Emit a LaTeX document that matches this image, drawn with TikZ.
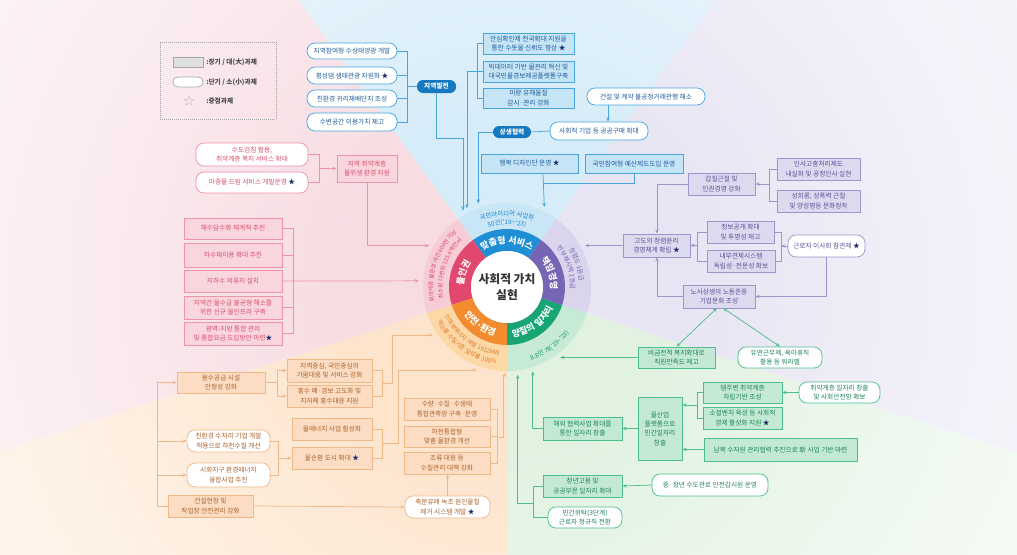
\documentclass[tikz,border=0pt]{standalone}
\usepackage{fontspec}
\newfontfamily\kr{Noto Sans CJK KR}
\newfontfamily\krls[LetterSpace=12]{Noto Sans CJK KR}
\usetikzlibrary{arrows.meta,decorations.text,calc,shadows}

% palette: lines, fills, texts per theme
\definecolor{bln}{HTML}{49A6DD}\definecolor{bfill}{HTML}{C5E4F6}\definecolor{btxt}{HTML}{1F5C99}
\definecolor{pillc}{HTML}{1679BF}
\definecolor{pln}{HTML}{EE93A8}\definecolor{pfill}{HTML}{F9D5DD}\definecolor{ptxt}{HTML}{D8506F}
\definecolor{uln}{HTML}{9E96CA}\definecolor{ufill}{HTML}{DDDAEF}\definecolor{utxt}{HTML}{5A5098}
\definecolor{gln}{HTML}{4DBF8E}\definecolor{gfill}{HTML}{C3E9D4}\definecolor{gtxt}{HTML}{1F8459}
\definecolor{oln}{HTML}{F0B886}\definecolor{ofill}{HTML}{FCDDC3}\definecolor{otxt}{HTML}{A9612B}
\definecolor{starc}{HTML}{1B2A6B}
% ring colours
\definecolor{rB}{HTML}{1E8FD5}\definecolor{rBl}{HTML}{C9E6F7}\definecolor{tB}{HTML}{1A84CB}
\definecolor{rP}{HTML}{E2486D}\definecolor{rPl}{HTML}{F6CCD6}\definecolor{tP}{HTML}{D9466A}
\definecolor{rO}{HTML}{F28C2E}\definecolor{rOl}{HTML}{FCD8A6}\definecolor{tO}{HTML}{DC7622}
\definecolor{rG}{HTML}{17A673}\definecolor{rGl}{HTML}{C6EAD4}\definecolor{tG}{HTML}{16995F}
\definecolor{rU}{HTML}{7565B4}\definecolor{rUl}{HTML}{DAD4ED}\definecolor{tU}{HTML}{7666B5}
% background wedge tints (near hub, and half-way out)
\definecolor{bgB}{HTML}{D6ECF9}\definecolor{bgBm}{HTML}{EDF6FC}
\definecolor{bgP}{HTML}{F7DCE2}\definecolor{bgPm}{HTML}{FBEEF1}
\definecolor{bgO}{HTML}{FDE4CC}\definecolor{bgOm}{HTML}{FEF2E6}
\definecolor{bgG}{HTML}{E1F2E1}\definecolor{bgGm}{HTML}{F1F9F1}
\definecolor{bgU}{HTML}{E7E4F3}\definecolor{bgUm}{HTML}{F3F1F9}

\pgfdeclareradialshading{shB}{\pgfpointorigin}{color(0bp)=(bgB); color(4bp)=(bgB); color(12bp)=(bgBm); color(26bp)=(white); color(50bp)=(white)}
\pgfdeclareradialshading{shP}{\pgfpointorigin}{color(0bp)=(bgP); color(4bp)=(bgP); color(12bp)=(bgPm); color(26bp)=(white); color(50bp)=(white)}
\pgfdeclareradialshading{shO}{\pgfpointorigin}{color(0bp)=(bgO); color(4bp)=(bgO); color(12bp)=(bgOm); color(26bp)=(white); color(50bp)=(white)}
\pgfdeclareradialshading{shG}{\pgfpointorigin}{color(0bp)=(bgG); color(4bp)=(bgG); color(12bp)=(bgGm); color(26bp)=(white); color(50bp)=(white)}
\pgfdeclareradialshading{shU}{\pgfpointorigin}{color(0bp)=(bgU); color(4bp)=(bgU); color(12bp)=(bgUm); color(26bp)=(white); color(50bp)=(white)}

% box by corners: name, x1, y1, x2, y2, style, text
\newcommand\bx[7]{\node[#6, minimum width={(#4-#2)*0.75pt}, minimum height={(#5-#3)*0.75pt}] (#1) at ({(#2+#4)/2},{-(#3+#5)/2}) {#7};}
% tinted wedge: start angle, mid angle, end angle, shading
\newcommand\tintwedge[4]{\begin{scope}
  \clip (507,-287) -- ([shift={(507,-287)}]#1:1500) -- ([shift={(507,-287)}]#2:1500) -- ([shift={(507,-287)}]#3:1500) -- cycle;
  \shade[shading=#4] (507,-287) circle (1000);\end{scope}}
% annular sector: start, end, inner r, outer r, colour
\newcommand\annsec[5]{\fill[#5] ([shift={(507,-287)}]#1:#3) arc[start angle=#1,end angle=#2,radius=#3]
  -- ([shift={(507,-287)}]#2:#4) arc[start angle=#2,end angle=#1,radius=#4] -- cycle;}
% text along an arc round the hub: start, end, radius, format, colour, text
\newcommand\arctext[6]{\path[decorate, decoration={text along path, text align=center, text color=#5, text={|#4|#6}}]
  ([shift={(507,-287)}]#1:#3) arc[start angle=#1, end angle=#2, radius=#3];}
\newcommand\st{\textcolor{starc}{★}}

\begin{document}
\begin{tikzpicture}[x=0.75pt,y=0.75pt, font=\kr\fontsize{5}{7}\selectfont,
  box/.style={inner sep=0.5pt, align=center, line width=0.55pt},
  brect/.style={box, draw=bln, fill=bfill, text=btxt},
  bround/.style={box, draw=bln, fill=white, text=btxt, rounded corners=6pt},
  prect/.style={box, draw=pln, fill=pfill, text=ptxt},
  pround/.style={box, draw=pln, fill=white, text=ptxt, rounded corners=6pt},
  urect/.style={box, draw=uln, fill=ufill, text=utxt},
  uround/.style={box, draw=uln, fill=white, text=utxt, rounded corners=6pt},
  grect/.style={box, draw=gln, fill=gfill, text=gtxt},
  ground/.style={box, draw=gln, fill=white, text=gtxt, rounded corners=6pt},
  orect/.style={box, draw=oln, fill=ofill, text=otxt},
  oround/.style={box, draw=oln, fill=white, text=otxt, rounded corners=6pt},
  pill/.style={inner sep=0pt, fill=pillc, text=white, rounded corners=4.5pt, font=\kr\bfseries\fontsize{5}{6}\selectfont},
  con/.style={line width=0.55pt},
  tip/.style={con, -{Stealth[length=3.2pt,width=2.6pt]}},
  bline/.style={con, draw=bln}, barrow/.style={tip, draw=bln},
  pline/.style={con, draw=pln}, parrow/.style={tip, draw=pln},
  uline/.style={con, draw=uln}, uarrow/.style={tip, draw=uln},
  gline/.style={con, draw=gln}, garrow/.style={tip, draw=gln},
  gboth/.style={con, draw=gln, {Stealth[length=3.2pt,width=2.6pt]}-{Stealth[length=3.2pt,width=2.6pt]}},
  oline/.style={con, draw=oln}, oarrow/.style={tip, draw=oln},
  lgtext/.style={anchor=west, inner sep=0pt, text=black!70, font=\kr\bfseries\fontsize{5}{6}\selectfont}]

\useasboundingbox (0,0) rectangle (1017,-554);
\fill[white] (0,0) rectangle (1017,-554);

% ---- tinted sectors behind everything ----
\begin{scope}
\clip (0,0) rectangle (1017,-554);
\tintwedge{54}{90}{126}{shB}
\tintwedge{126}{162}{198}{shP}
\tintwedge{198}{234}{270}{shO}
\tintwedge{270}{306}{342}{shG}
\tintwedge{-18}{18}{54}{shU}
\end{scope}

% ---- hub ----
\annsec{54}{126}{58}{84}{rBl}
\annsec{126}{198}{58}{84}{rPl}
\annsec{198}{270}{58}{84}{rOl}
\annsec{270}{342}{58}{84}{rGl}
\annsec{-18}{54}{58}{84}{rUl}
\annsec{54}{126}{36}{58}{rB}
\annsec{126}{198}{36}{58}{rP}
\annsec{198}{270}{36}{58}{rO}
\annsec{270}{342}{36}{58}{rG}
\annsec{-18}{54}{36}{58}{rU}
\node[circle, minimum size=176*0.75pt, inner sep=0pt] (ring) at (507,-287) {};
\node[circle, fill=white, minimum size=72*0.75pt, inner sep=0pt, text=black!80, align=center,
  font=\kr\bfseries\fontsize{8.8}{12}\selectfont,
  drop shadow={opacity=0.25, shadow xshift=0.4pt, shadow yshift=-0.7pt}] (core) at (507,-287) {사회적 가치\\실현};

\arctext{140}{40}{43.5}{\kr\bfseries\fontsize{6.7}{8}\selectfont}{white}{맞춤형 서비스}
\arctext{212}{112}{43.5}{\kr\bfseries\fontsize{6.7}{8}\selectfont}{white}{물인권}
\arctext{68}{-32}{43.5}{\kr\bfseries\fontsize{6.7}{8}\selectfont}{white}{책임경영}
\arctext{184}{284}{50.5}{\krls\bfseries\fontsize{6.7}{8}\selectfont}{white}{안전·환경}
\arctext{256}{356}{50.5}{\krls\bfseries\fontsize{6.7}{8}\selectfont}{white}{양질의 일자리}

\arctext{140}{40}{71}{\kr\fontsize{4.7}{6}\selectfont}{tB}{국민아이디어 사업화}
\arctext{140}{40}{62.5}{\kr\fontsize{4.7}{6}\selectfont}{tB}{50건('19{\textasciitilde}'23)}
\arctext{216}{108}{74}{\kr\fontsize{4.2}{6}\selectfont}{tP}{취약계층 물환경 개선 600천 이상}
\arctext{216}{108}{64.5}{\kr\fontsize{4.2}{6}\selectfont}{tP}{취수원 다변화 125.6백만㎥}
\arctext{70}{-34}{72.5}{\kr\fontsize{4.7}{6}\selectfont}{tU}{청렴도 1등급}
\arctext{70}{-34}{63.5}{\kr\fontsize{4.7}{6}\selectfont}{tU}{반부패시책 1등급}
\arctext{180}{288}{68.5}{\krls\fontsize{4.4}{6}\selectfont}{tO}{신재생에너지 개발 1912MW}
\arctext{180}{288}{77.5}{\krls\fontsize{4.4}{6}\selectfont}{tO}{먹는물 수질기준 달성률 100{\%}}
\arctext{250}{362}{77}{\krls\fontsize{4.7}{6}\selectfont}{tG}{8.8만 개('19{\textasciitilde}'23)}

% ---- legend ----
\node[draw=black!35, densely dotted, line width=0.5pt, minimum width=116*0.75pt, minimum height=77*0.75pt] (legend) at (218,-80.5) {};
\bx{lgR}{173}{57}{203}{67}{draw=black!35, fill=black!12, line width=0.5pt}{}
\bx{lgO}{173}{77}{203}{87}{draw=black!35, fill=white, rounded corners=3.5pt, line width=0.5pt}{}
\node[text=black!30, inner sep=0pt, font=\kr\fontsize{9}{9}\selectfont] (lgS) at (189,-101) {☆};
\node[lgtext] (lgt1) at (206,-62) {:장기 / 대(大)과제};
\node[lgtext] (lgt2) at (206,-82) {:단기 / 소(小)과제};
\node[lgtext] (lgt3) at (206,-101) {:중점과제};

% ---- blue: 맞춤형 서비스 ----
\bx{T1}{307}{43}{397}{59}{bround}{지역참여형 수상태양광 개발}
\bx{T2}{307}{67}{397}{84}{bround}{횡성댐 생태관광 자원화 \st}
\bx{T3}{307}{90}{397}{107}{bround}{친환경 귀리재배단지 조성}
\bx{T4}{307}{113}{397}{131}{bround}{수변공간 이용가치 제고}
\bx{JB}{417}{80}{456}{93}{pill}{지역발전}
\bx{B1}{483}{33}{574}{54}{brect}{안심확인제 전국확대 지원을\\통한 수돗물 신뢰도 향상 \st}
\bx{B2}{483}{61}{574}{82}{brect}{빅데이터 기반 물관리 혁신 및\\대국민물경보제공플랫폼구축}
\bx{B3}{483}{88}{574}{108}{brect}{미량 유해물질\\감시·관리 강화}
\bx{G1}{587}{88}{705}{105}{bround}{건설 및 계약 불공정거래관행 해소}
\bx{G2}{550}{122}{648}{140}{bround}{사회적 기업 등 공공구매 확대}
\bx{SB}{493}{126}{531}{138}{pill}{상생협력}
\bx{H1}{481}{154}{578}{173}{brect}{행복 디자인단 운영 \st}
\bx{H2}{585}{154}{683}{173}{brect}{국민참여형 예산제도도입 운영}

\coordinate (tbx) at (407,0);
\coordinate (bbx) at (477,0);
\coordinate (gx) at (608,0);
\coordinate (hx) at (543,0);
\coordinate (hj) at (543,-183);
\draw[bline] (T1.east) -| (tbx |- T4.east) -- (T4.east);
\draw[bline] (T2.east) -- (T2.east -| tbx) (T3.east) -- (T3.east -| tbx);
\draw[bline] (tbx |- JB.west) -- (JB.west);
\draw[barrow] (JB.south) -- ++(0,-45) -| (ring.120.75);
\draw[bline] (B1.west) -| (bbx |- B3.west) -- (B3.west);
\draw[bline] (B2.west) -- (B2.west -| bbx);
\draw[barrow] (B2.west -| bbx) -| (ring.117.0);
\draw[barrow] (G1.south -| gx) -- (G2.north -| gx);
\draw[bline] (G2.west) -- (SB.east);
\draw[barrow] (SB.west) -| (ring.109.9);
\draw[barrow] (H1.south -| hx) -- (ring.65.85);
\draw[bline] (H2.south) |- (hj);

% ---- pink: 물인권 ----
\bx{PK1}{196}{143}{308}{166}{pround}{수도검침 활용,\\취약계층 복지 서비스 확대}
\bx{PK2}{196}{172}{308}{193}{pround}{마중물 드림 서비스 개발운영 \st}
\bx{PK3}{337}{155}{397}{182}{prect}{지역 취약계층\\물위생 환경 지원}
\bx{P1}{184}{218}{282}{239}{prect}{해수담수화 체계적 추진}
\bx{P2}{184}{243}{282}{267}{prect}{하수재이용 확대 추진}
\bx{P3}{184}{270}{282}{292}{prect}{지하수 저류지 설치}
\bx{P4}{184}{296}{282}{319}{prect}{지역간 물수급 불균형 해소를\\위한 신규 물인프라 구축}
\bx{P5}{184}{322}{282}{345}{prect}{광역-지방 통합 관리\\및 통합요금 도입방안 마련\st}

\coordinate (pkx) at (319,0);
\coordinate (px) at (293,0);
\draw[pline] (PK1.east) -| (pkx |- PK2.east) -- (PK2.east);
\draw[parrow] (pkx |- PK3.west) -- (PK3.west);
\draw[parrow] (PK3.south) |- (ring.152.2);
\draw[pline] (P1.east) -| (px |- P5.east) -- (P5.east);
\draw[pline] (P2.east) -- (P2.east -| px) (P4.east) -- (P4.east -| px);
\draw[parrow] (P3.east) -- (ring.176.1);

% ---- purple: 책임경영 ----
\bx{U1}{688}{173}{755}{195}{urect}{갑질근절 및\\인권경영 강화}
\bx{U2}{777}{158}{860}{180}{urect}{인사고충처리제도\\내실화 및 공정인사 실현}
\bx{U3}{777}{190}{860}{212}{urect}{성희롱, 성폭력 근절\\및 양성평등 문화정착}
\bx{U4}{623}{234}{690}{257}{urect}{고도의 청렴윤리\\경영체계 확립 \st}
\bx{U5}{707}{221}{774}{243}{urect}{정보공개 확대\\및 투명성 제고}
\bx{U6}{707}{250}{775}{272}{urect}{내부견제시스템\\독립성·전문성 확보}
\bx{U7}{788}{235}{865}{257}{uround}{근로자 이사회 참관제 \st}
\bx{U8}{683}{285}{755}{308}{urect}{노사상생의 노동존중\\기업문화 조성}

\coordinate (ux) at (769,0);
\coordinate (ux2) at (657,0);
\coordinate (ux3) at (697,0);
\coordinate (ux4) at (781,0);
\draw[uline] (U2.west) -| (ux |- U3.west) -- (U3.west);
\draw[uarrow] (ux |- U1.east) -- (U1.east);
\draw[uarrow] (U1.west) -| (ux2 |- U4.north);
\draw[uarrow] (U4.west) -- (ring.28.5);
\draw[uline] (U5.west) -| (ux3 |- U6.west) -- (U6.west);
\draw[uarrow] (ux3 |- U4.east) -- (U4.east);
\draw[uline] (U5.east) -| (ux4 |- U6.east) -- (U6.east);
\draw[uarrow] (U7.west) -- (ux4 |- U7.west);
\draw[uarrow] (U7.south) |- (U8.east);
\draw[uarrow] (U8.west) -| (ux2 |- U4.south);

% ---- green: 양질의 일자리 ----
\bx{N1}{638}{347}{715}{368}{grect}{비금전적 복지확대로\\직원만족도 제고}
\bx{N2}{738}{347}{822}{368}{ground}{유연근무제, 육아휴직\\활용 등 워라밸}
\bx{N3}{638}{397}{682}{460}{grect}{물산업\\플랫폼으로\\민간일자리\\창출}
\bx{N4}{703}{382}{782}{403}{grect}{댐주변 취약계층\\자립기반 조성}
\bx{N5}{703}{407}{782}{429}{grect}{소셜벤처 육성 등 사회적\\경제 활성화 지원 \st}
\bx{N6}{799}{382}{880}{403}{ground}{취약계층 일자리 창출\\및 사회안전망 확보}
\bx{N7}{704}{438}{857}{461}{grect}{남북 수자원 관리협력 추진으로 新 사업 기반 마련}
\bx{N8}{543}{417}{622}{440}{grect}{해외 협력사업 확대를\\통한 일자리 창출}
\bx{N9}{543}{475}{622}{497}{grect}{청년고용 및\\공공부문 일자리 확대}
\bx{N10}{652}{474}{768}{496}{ground}{중·장년 수도관로 안전감시원 운영}
\bx{N11}{548}{507}{622}{528}{ground}{민간위탁(3단계)\\근로자 정규직 전환}

\coordinate (u8a) at (717,-308);
\coordinate (u8b) at (723,-308);
\coordinate (gx1) at (697,0);
\coordinate (gm1) at (697,-405);
\coordinate (gx2) at (533,0);
\coordinate (gm2) at (533,-503);
\draw[gboth] (N1.north) -- (u8a);
\draw[gboth] (N2.north) -- (u8b);
\draw[garrow] (N1.west) -- (ring.307.3);
\draw[gline] (N4.west) -| (gx1 |- N5.west) -- (N5.west);
\draw[garrow] (gm1) -- (gm1 -| N3.east);
\draw[garrow] (N6.west) -- (N4.east);
\draw[garrow] (N7.west) -- (N7.west -| N3.east);
\draw[garrow] (N3.west) -- (N8.east);
\draw[garrow] (N8.west) -| (ring.287.2);
\draw[garrow] (N10.west) -- (N9.east);
\draw[gline] (N9.west) -| (gx2 |- N11.west) -- (N11.west);
\draw[garrow] (gm2) -| (ring.277.2);

% ---- orange: 안전·환경 ----
\bx{O1}{177}{372}{265}{393}{orect}{용수공급 시설\\안정성 강화}
\bx{O2}{287}{359}{372}{382}{orect}{지역중심, 국민중심의\\가뭄대응 및 서비스 강화}
\bx{O3}{287}{385}{372}{407}{orect}{홍수 예·경보 고도화 및\\지자체 홍수대응 지원}
\bx{O4}{292}{418}{372}{440}{orect}{물에너지 사업 활성화}
\bx{O5}{292}{447}{372}{469}{orect}{물순환 도시 확대 \st}
\bx{O6}{187}{430}{270}{452}{oround}{친환경 수처리 기업 개발\\적용으로 하천수질 개선}
\bx{O7}{187}{463}{270}{487}{oround}{시화지구 환경에너지\\융합사업 추진}
\bx{O8}{168}{495}{253}{517}{orect}{건설현장 및\\작업장 안전관리 강화}
\bx{O9}{404}{398}{490}{420}{orect}{수량·수질·수생태\\통합관측망 구축·운영}
\bx{O10}{404}{426}{490}{447}{orect}{하천통합형\\맞춤 물환경 개선}
\bx{O11}{404}{452}{490}{474}{orect}{조류 대응 등\\수질관리 대책 강화}
\bx{O12}{405}{496}{490}{518}{oround}{축분유래 녹조 원인물질\\제거 시스템 개발 \st}

\coordinate (ox1) at (277,0);
\coordinate (ox2) at (382,0);
\coordinate (ox3) at (278,0);
\coordinate (ox4) at (157,0);
\coordinate (ox5) at (497,0);
\coordinate (om1) at (382,-383);
\coordinate (om2) at (382,-443);
\coordinate (om3) at (497,-437);
\draw[oline] (O1.east) -- (ox1 |- O1.east);
\draw[oline] (ox1 |- O2.west) -- (ox1 |- O3.west);
\draw[oarrow] (ox1 |- O2.west) -- (O2.west);
\draw[oarrow] (ox1 |- O3.west) -- (O3.west);
\draw[oline] (O2.east) -| (ox2 |- O3.east) -- (O3.east);
\draw[oarrow] (om1) -- ++(10,0) |- (ring.213.1);
\draw[oline] (O6.east) -| (ox3 |- O7.east) -- (O7.east);
\draw[oarrow] (ox3 |- O5.west) -- (O5.west);
\draw[oline] (O4.east) -| (ox2 |- O5.east) -- (O5.east);
\draw[oarrow] (om2) -- ++(16,0) |- (ring.250.6);
\draw[oline] (O8.west) -| (ox4 |- O1.west);
\draw[oarrow] (ox4 |- O1.west) -- (O1.west);
\draw[oarrow] (ox4 |- O6.west) -- (O6.west);
\draw[oarrow] (ox4 |- O7.west) -- (O7.west);
\draw[oarrow] (O8.east) -- (O12.west);
\draw[oarrow] (O12.north) -- (O12.north |- O11.south);
\draw[oline] (O9.east) -| (ox5 |- O11.east) -- (O11.east);
\draw[oline] (O10.east) -- (O10.east -| ox5);
\draw[oarrow] (om3) -- ++(6,0) |- (ring.267.4);

\end{tikzpicture}
\end{document}
